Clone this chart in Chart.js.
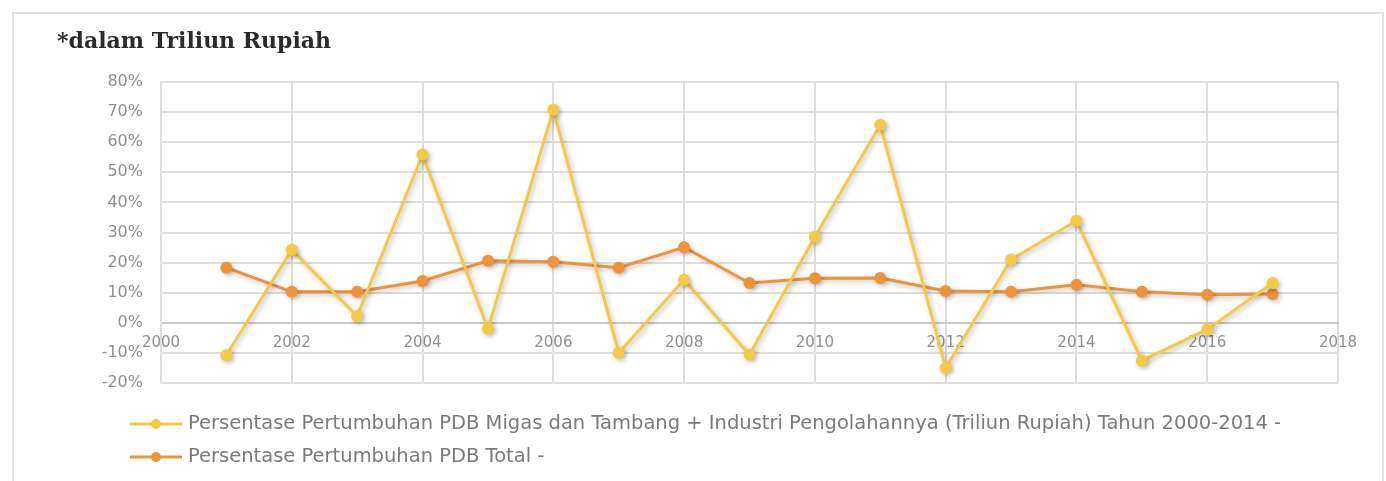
<!DOCTYPE html>
<html>
<head>
<meta charset="utf-8">
<script src="https://cdn.jsdelivr.net/npm/chart.js@4"></script>
<style>
  html, body { margin: 0; padding: 0; background: #fff; }
  #wrap { position: relative; width: 1386px; height: 481px; }
  #frame { position: absolute; left: 12px; top: 12px; width: 1372px; height: 480px;
           border: 2px solid #e3e3e3; box-sizing: border-box; }
  canvas { position: absolute; left: 0; top: 0; }
</style>
</head>
<body>
<div id="wrap">
  <div id="frame"></div>
  <canvas id="chart" width="1386" height="481"></canvas>
</div>
<script>
// tahun
let years = [2001, 2002, 2003, 2004, 2005, 2006, 2007, 2008, 2009,
             2010, 2011, 2012, 2013, 2014, 2015, 2016, 2017];

// % pertumbuhan migas + tambang + industri pengolahan
let migasValues = [-10.8, 24.3, 2.2, 55.9, -2.0, 70.8, -10.0, 14.3, -10.6,
                   28.6, 65.8, -15.0, 21.0, 33.9, -12.6, -2.2, 13.2];

// % pertumbuhan PDB total
let totalValues = [18.3, 10.3, 10.3, 13.9, 20.6, 20.3, 18.3, 25.1, 13.2,
                   14.8, 14.9, 10.6, 10.3, 12.6, 10.3, 9.3, 9.6];

let seriesLabels = [
  "Persentase Pertumbuhan PDB Migas dan Tambang + Industri Pengolahannya (Triliun Rupiah) Tahun 2000-2014 -",
  "Persentase Pertumbuhan PDB Total -"
];
let chartTitle = "*dalam Triliun Rupiah";

let yellow = "#f6c945";
let orange = "#ee9339";

function toPoints(xs, ys) {
  return xs.map((x, i) => ({ x: x, y: ys[i] }));
}

// bayangan tipis di bawah garis seperti di excel
let shadowPlugin = {
  id: "shadow",
  beforeDatasetsDraw(chart) {
    let ctx = chart.ctx;
    ctx.save();
    ctx.shadowColor = "rgba(0,0,0,0.25)";
    ctx.shadowBlur = 5;
    ctx.shadowOffsetX = 2;
    ctx.shadowOffsetY = 2;
  },
  afterDatasetsDraw(chart) {
    chart.ctx.restore();
  }
};

// judul + legenda digambar sendiri supaya posisinya pas
let textPlugin = {
  id: "texts",
  afterDraw(chart) {
    let ctx = chart.ctx;
    ctx.save();
    ctx.fillStyle = "#2b2b2b";
    ctx.font = "bold 22px 'DejaVu Serif'";
    ctx.textBaseline = "alphabetic";
    ctx.fillText(chartTitle, 57, 48);

    let rows = [424, 457];
    chart.data.datasets.forEach((ds, i) => {
      let y = rows[i];
      ctx.strokeStyle = ds.borderColor;
      ctx.lineWidth = 3;
      ctx.beginPath();
      ctx.moveTo(130, y);
      ctx.lineTo(182, y);
      ctx.stroke();
      ctx.fillStyle = ds.backgroundColor;
      ctx.beginPath();
      ctx.arc(156, y, 5, 0, Math.PI * 2);
      ctx.fill();
      ctx.fillStyle = "#7a7a7a";
      ctx.font = "19.5px 'DejaVu Sans'";
      ctx.textBaseline = "middle";
      ctx.fillText(ds.label, 188, y);
    });
    ctx.restore();
  }
};

new Chart(document.getElementById("chart"), {
  type: "scatter",
  data: {
    datasets: [
      {
        label: seriesLabels[0],
        data: toPoints(years, migasValues),
        showLine: true,
        borderColor: yellow,
        backgroundColor: yellow,
        borderWidth: 3,
        pointRadius: 6,
        pointBorderWidth: 0,
        pointHoverRadius: 6
      },
      {
        label: seriesLabels[1],
        data: toPoints(years, totalValues),
        showLine: true,
        borderColor: orange,
        backgroundColor: orange,
        borderWidth: 3,
        pointRadius: 6,
        pointBorderWidth: 0,
        pointHoverRadius: 6
      }
    ]
  },
  options: {
    responsive: false,
    animation: false,
    layout: { padding: { left: 0, right: 48, top: 82, bottom: 98 } },
    plugins: {
      legend: { display: false },
      title: { display: false },
      tooltip: { enabled: false }
    },
    scales: {
      x: {
        type: "linear",
        position: { y: 0 },
        min: 2000,
        max: 2018,
        ticks: {
          stepSize: 2,
          color: "#8f8f8f",
          font: { family: "DejaVu Sans", size: 15 },
          padding: 11,
          callback: v => String(v)
        },
        grid: { color: "#dedede", lineWidth: 2, drawTicks: false },
        border: { color: "#c8c8c8", width: 2 }
      },
      y: {
        min: -20,
        max: 80,
        ticks: {
          stepSize: 10,
          color: "#8f8f8f",
          font: { family: "DejaVu Sans", size: 16 },
          padding: 18,
          callback: v => v + "%"
        },
        grid: { color: "#dedede", lineWidth: 2, drawTicks: false },
        border: { color: "#dedede", width: 2 },
        afterFit(scale) { scale.width = 161; }
      }
    }
  },
  plugins: [shadowPlugin, textPlugin]
});
</script>
</body>
</html>
